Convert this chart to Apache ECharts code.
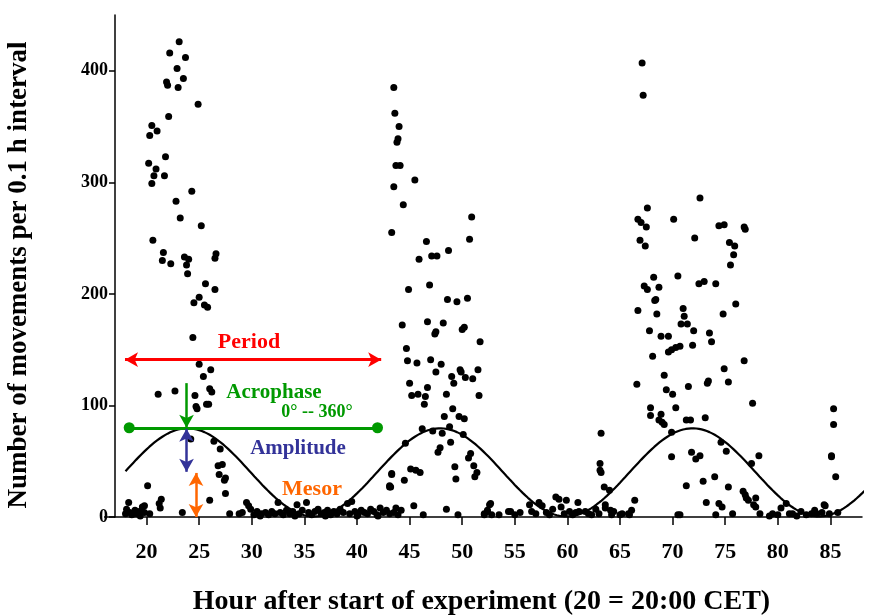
<!DOCTYPE html>
<html>
<head>
<meta charset="utf-8">
<script src="https://cdn.jsdelivr.net/npm/echarts@6/dist/echarts.min.js"></script>
<style>
  html, body { margin: 0; padding: 0; background: #fff; }
  #main { width: 871px; height: 615px; }
</style>
</head>
<body>
<div id="main"></div>
<script>
// activity counts, [hour, movements per 0.1 h]
const night1 = [[23.1,426],[22.2,416],[23.7,412],[22.9,402],[23.5,393],[21.9,390],[22.0,387],[23.0,385],[24.9,370],[22.1,359],[20.5,351],[21.0,346],[20.3,342],[21.8,323],[20.2,317],[20.9,312],[20.7,306],[21.7,306],[20.5,299],[24.3,292],[22.8,283],[23.2,268],[25.2,261],[20.6,248],[21.6,237],[21.5,230],[22.3,227],[23.6,233],[24.0,231],[23.8,226],[23.9,218],[26.6,236],[26.5,232],[25.6,209],[26.5,204],[25.0,197],[24.5,192],[25.5,190],[25.8,188],[24.4,161],[25.0,137],[26.1,132],[25.4,126],[26.0,115],[26.2,112],[21.1,110],[22.7,113],[24.6,109],[25.7,101],[25.9,101],[24.7,99],[24.8,97],[24.2,70],[26.4,68],[27.0,61],[26.8,46],[27.2,47],[26.9,38],[27.5,35],[27.4,33],[27.5,21],[20.1,28],[21.4,16],[21.2,12],[21.3,8],[26.0,15],[23.4,4],[27.9,3],[28.8,3],[18.3,13],[18.1,7],[18.4,4],[18.9,6],[19.3,5],[19.6,9],[19.8,10],[19.1,3],[19.8,4],[18.0,3],[18.6,2],[19.4,1],[20.3,3]]
const day1 = [[29.5,13],[29.9,7],[29.1,4],[30.5,5],[29.7,10],[30.2,2],[30.9,3],[31.3,4],[31.6,2],[31.9,5],[32.2,3],[32.5,13],[32.7,4],[33.0,2],[33.3,6],[33.6,3],[33.9,5],[34.3,11],[34.5,3],[34.8,6],[35.2,13],[35.4,4],[35.7,2],[36.0,5],[36.3,7],[36.6,3],[36.9,4],[37.2,6],[37.5,2],[37.8,5],[38.1,3],[38.4,7],[38.7,4],[39.1,12],[39.5,14],[39.3,3],[39.8,5],[40.1,2],[40.4,6],[40.7,4],[41.0,3],[41.3,7],[41.6,5],[41.9,2],[42.2,8],[42.5,4],[42.8,6],[43.1,3],[43.2,27],[43.1,28],[43.3,38],[30.8,1],[34.1,1],[37.0,1],[40.0,1],[42.0,1]]
const night2 = [[43.5,385],[43.6,362],[44.0,350],[43.9,339],[43.8,336],[43.7,315],[44.1,315],[45.5,302],[43.5,296],[44.4,280],[50.9,269],[43.3,255],[50.7,249],[46.6,247],[48.7,239],[47.1,234],[47.6,234],[45.9,231],[44.9,204],[46.9,208],[48.6,195],[49.5,193],[50.5,196],[44.3,172],[46.7,175],[48.2,174],[47.4,164],[47.5,166],[50.0,168],[50.2,170],[51.7,157],[44.7,151],[44.8,140],[45.7,138],[47.0,141],[48.0,137],[47.5,130],[49.8,132],[49.9,130],[51.5,132],[49.0,126],[50.3,125],[51.0,124],[49.2,120],[45.0,120],[46.7,116],[45.2,109],[45.8,110],[46.5,108],[48.5,110],[51.6,109],[46.4,101],[49.1,97],[48.3,90],[49.7,90],[50.2,88],[46.2,79],[48.8,81],[47.2,77],[48.1,75],[50.1,74],[44.6,66],[48.9,67],[47.9,62],[47.7,58],[50.8,57],[50.6,53],[51.1,46],[49.3,45],[51.4,40],[51.2,36],[49.4,34],[45.1,43],[45.6,42],[46.0,40],[43.3,39],[44.5,33],[43.1,27],[45.4,10],[48.5,7],[46.3,2],[49.6,2],[52.6,11],[52.4,6],[52.1,2],[52.8,2],[54.4,5],[43.5,4],[43.9,2],[44.2,6],[43.7,8]]
const day2 = [[52.7,12],[53.5,2],[54.6,5],[55.5,4],[56.4,11],[57.3,13],[57.6,10],[56.6,5],[58.9,18],[59.2,16],[59.9,15],[61.0,13],[58.6,7],[59.4,9],[60.2,5],[61.1,5],[61.7,5],[62.7,7],[63.6,11],[63.5,27],[64.0,24],[63.2,40],[64.4,5],[65.2,3],[65.8,3],[52.1,3],[52.4,5],[55.0,2],[57.0,3],[58.0,4],[58.3,2],[59.7,3],[60.5,2],[60.8,4],[62.0,3],[62.3,2],[63.0,3],[63.2,75],[63.1,48],[63.1,42]]
const night3 = [[67.1,407],[67.2,378],[72.6,286],[67.6,277],[66.7,267],[67.0,264],[70.1,267],[67.5,260],[74.4,261],[74.9,262],[76.9,258],[76.8,260],[66.9,248],[67.4,243],[72.1,250],[75.4,246],[75.9,243],[75.8,235],[75.5,226],[68.2,215],[70.5,216],[67.3,207],[67.6,204],[68.7,206],[72.5,209],[73.0,211],[74.1,209],[68.3,194],[68.4,195],[76.0,191],[66.7,185],[71.0,187],[68.5,182],[71.1,180],[70.8,173],[71.4,173],[74.8,182],[67.8,167],[72.0,167],[73.5,165],[68.9,162],[69.6,162],[73.7,157],[71.9,154],[70.7,153],[70.3,152],[69.9,150],[69.6,148],[68.1,144],[76.8,140],[74.9,133],[69.2,127],[73.4,122],[73.3,120],[75.3,121],[66.6,119],[71.5,117],[69.4,114],[70.0,110],[77.6,102],[67.9,98],[70.3,98],[67.9,91],[68.9,92],[68.7,87],[69.0,85],[69.2,83],[71.3,87],[71.7,87],[73.1,89],[69.9,76],[74.6,67],[71.8,58],[72.6,55],[72.2,52],[75.1,59],[78.2,55],[69.9,54],[77.5,48],[72.9,32],[74.0,36],[75.3,27],[71.3,28],[76.7,23],[76.9,20],[77.0,17],[77.2,15],[77.9,9],[66.4,15],[73.2,13],[74.4,12],[74.7,9],[63.6,8],[64.1,6],[64.2,2],[65.0,2],[65.9,2],[66.1,6],[70.5,2],[70.7,2],[74.1,2],[75.7,3],[78.3,3],[79.2,1]]
const night4 = [[85.3,97],[85.3,83],[85.1,55],[85.1,54],[85.5,36],[77.9,17],[77.7,11],[79.5,3],[80.3,8],[80.8,12],[81.1,3],[81.4,3],[82.2,5],[83.2,3],[83.7,3],[84.4,11],[84.5,10],[84.9,3],[80.0,2],[81.8,1],[82.7,2],[83.5,6],[84.2,4],[85.7,4]]

const hourTicks = [20, 25, 30, 35, 40, 45, 50, 55, 60, 65, 70, 75, 80, 85]
const countTicks = [0, 100, 200, 300, 400]

// cosinor fit parameters
const mesor = 40
const amplitude = 39.5
const period = 24
const acrophase = 23.9
const fitStart = 18
const fitEnd = 89

let fit = []
for (let t = fitStart; t <= fitEnd + 0.001; t += 0.25) {
    fit.push([t, mesor + amplitude * Math.cos(2 * Math.PI * (t - acrophase) / period)])
}

const serif = '"Liberation Serif", "Times New Roman", serif'

function arrowLine(from, to, color, startSym, endSym, width) {
    return [
        { coord: from, symbol: startSym, symbolSize: startSym === 'circle' ? 11 : [11, 13], lineStyle: { color: color, width: width || 3, type: 'solid' } },
        { coord: to, symbol: endSym, symbolSize: endSym === 'circle' ? 11 : [11, 13] }
    ]
}

var myChart = echarts.init(document.getElementById('main'))

var option = {
    animation: false,
    backgroundColor: '#fff',
    grid: { left: 115, right: 9, top: 15, bottom: 98, outerBoundsMode: 'none', containLabel: false },
    xAxis: {
        type: 'value',
        min: 17,
        max: 88,
        name: 'Hour after start of experiment (20 = 20:00 CET)',
        nameLocation: 'middle',
        nameGap: 71,
        nameTextStyle: { fontFamily: serif, fontWeight: 'bold', fontSize: 28, color: '#000', padding: [0, 14, 0, 0] },
        axisLine: { lineStyle: { color: '#000', width: 1.5 } },
        axisTick: { customValues: hourTicks, length: 8, lineStyle: { color: '#000', width: 1.5 } },
        axisLabel: { customValues: hourTicks, margin: 24, fontFamily: serif, fontWeight: 'bold', fontSize: 22, color: '#000' },
        splitLine: { show: false }
    },
    yAxis: {
        type: 'value',
        min: 0,
        max: 450,
        name: 'Number of movements per 0.1 h interval',
        nameLocation: 'middle',
        nameGap: 82,
        nameTextStyle: { fontFamily: serif, fontWeight: 'bold', fontSize: 27, color: '#000', padding: [0, 18, 0, 0] },
        axisLine: { show: true, lineStyle: { color: '#000', width: 1.5 } },
        axisTick: { show: true, customValues: countTicks, length: 6, lineStyle: { color: '#000', width: 1.5 } },
        axisLabel: { customValues: countTicks, margin: 7, fontFamily: serif, fontWeight: 'bold', fontSize: 18, color: '#000' },
        splitLine: { show: false }
    },
    series: [
        {
            name: 'movements',
            type: 'scatter',
            data: night1.concat(day1, night2, day2, night3, night4),
            symbolSize: 7,
            itemStyle: { color: '#000', opacity: 1 },
            z: 3
        },
        {
            name: 'cosinor',
            type: 'line',
            data: fit,
            showSymbol: false,
            smooth: false,
            clip: false,
            lineStyle: { color: '#000', width: 2.2 },
            z: 4,
            markLine: {
                silent: true,
                animation: false,
                label: { show: false },
                emphasis: { disabled: true },
                data: [
                    // mesor level
                    [
                        { coord: [fitStart, mesor], symbol: 'none', lineStyle: { color: '#FF6600', width: 2, type: [11, 6] } },
                        { coord: [fitEnd, mesor], symbol: 'none' }
                    ],
                    // period
                    arrowLine([17.95, 141], [42.3, 141], '#FF0000', 'arrow', 'arrow'),
                    // acrophase 0-360 bar
                    arrowLine([18.35, 80], [41.95, 80], '#009900', 'circle', 'circle'),
                    // acrophase pointer
                    arrowLine([23.8, 120], [23.8, 80], '#009900', 'none', 'arrow', 2.5),
                    // amplitude
                    arrowLine([23.8, 79], [23.8, 40.5], '#333399', 'arrow', 'arrow', 2.5),
                    // mesor
                    arrowLine([24.7, 39.5], [24.7, 0], '#FF6600', 'arrow', 'arrow', 2.5)
                ]
            }
        }
    ],
    graphic: [
        // x axis line runs a little past the y axis on the left
        { type: 'line', shape: { x1: 104, y1: 517, x2: 115, y2: 517 }, style: { stroke: '#000', lineWidth: 1.5 } },
        { type: 'text', x: 249, y: 342, style: { text: 'Period', fill: '#FF0000', font: 'bold 22px ' + serif, align: 'center', verticalAlign: 'middle' } },
        { type: 'text', x: 274, y: 393, style: { text: 'Acrophase', fill: '#009900', font: 'bold 21px ' + serif, align: 'center', verticalAlign: 'middle' } },
        { type: 'text', x: 317, y: 412, style: { text: '0° -- 360°', fill: '#009900', font: 'bold 18px ' + serif, align: 'center', verticalAlign: 'middle' } },
        { type: 'text', x: 298, y: 449, style: { text: 'Amplitude', fill: '#333399', font: 'bold 21px ' + serif, align: 'center', verticalAlign: 'middle' } },
        { type: 'text', x: 312, y: 489, style: { text: 'Mesor', fill: '#FF6600', font: 'bold 22px ' + serif, align: 'center', verticalAlign: 'middle' } }
    ]
}

myChart.setOption(option)
</script>
</body>
</html>
